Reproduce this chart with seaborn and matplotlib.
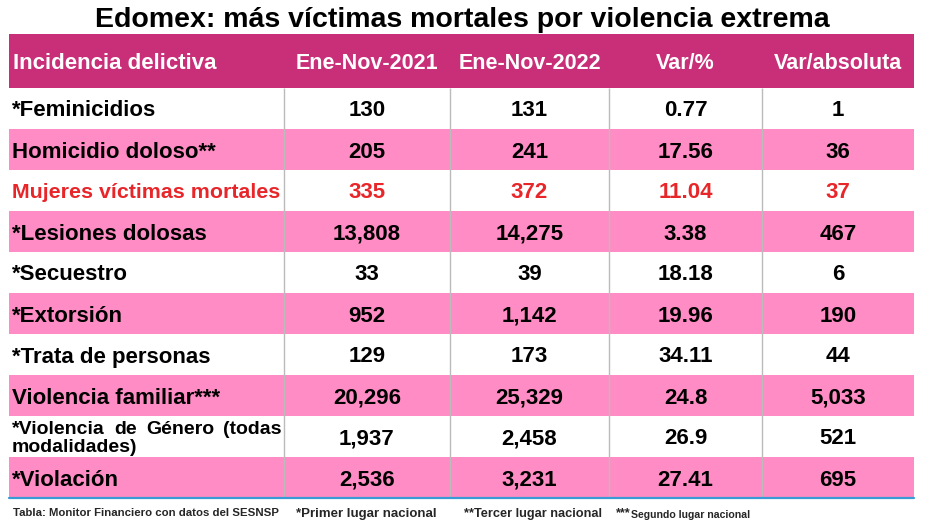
import numpy as np
import pandas as pd
import matplotlib
matplotlib.use("Agg")
import matplotlib.pyplot as plt
from matplotlib.colors import ListedColormap
import seaborn as sns

sns.set_theme(style="white")
plt.rcParams['font.family'] = ['Liberation Sans', 'DejaVu Sans']

title = "Edomex: más víctimas mortales por violencia extrema"
headers = ["Incidencia delictiva", "Ene-Nov-2021", "Ene-Nov-2022", "Var/%", "Var/absoluta"]
delitos = ["*Feminicidios", "Homicidio doloso**", "Mujeres víctimas mortales",
           "*Lesiones dolosas", "*Secuestro", "*Extorsión", "*Trata de personas",
           "Violencia familiar***", "*Violencia de Género (todas\nmodalidades)", "*Violación"]
ene_nov_2021 = ["130", "205", "335", "13,808", "33", "952", "129", "20,296", "1,937", "2,536"]
ene_nov_2022 = ["131", "241", "372", "14,275", "39", "1,142", "173", "25,329", "2,458", "3,231"]
var_pct = ["0.77", "17.56", "11.04", "3.38", "18.18", "19.96", "34.11", "24.8", "26.9", "27.41"]
var_abs = ["1", "36", "37", "467", "6", "190", "44", "5,033", "521", "695"]
fuente = "Tabla: Monitor Financiero con datos del SESNSP"
notas = ["*Primer lugar nacional", "**Tercer lugar nacional"]

df = pd.DataFrame({headers[0]: delitos, headers[1]: ene_nov_2021, headers[2]: ene_nov_2022,
                   headers[3]: var_pct, headers[4]: var_abs})

HEAD = "#C82F78"
PINK = "#FF8CC4"
RED = "#E8262A"

W, H = 928, 529
fig = plt.figure(figsize=(W / 100, H / 100), dpi=100)
fig.patch.set_facecolor("white")

x0, x1 = 9, 914
tw = x1 - x0
edges = np.array([9, 284, 450, 609, 762, 914])
fx = (edges - x0) / tw
centers = (fx[1:-1] + fx[2:]) / 2

# header
axh = fig.add_axes([x0 / W, 1 - 88 / H, tw / W, 54 / H])
sns.heatmap(np.zeros((1, 1)), cmap=ListedColormap([HEAD]), cbar=False,
            xticklabels=False, yticklabels=False, ax=axh)
axh.text(4 / tw, 0.5, headers[0], color="white", fontsize=16, fontweight="bold",
         ha="left", va="center_baseline")
for c, h in zip(centers, headers[1:]):
    axh.text(c, 0.5, h, color="white", fontsize=15.5, fontweight="bold",
             ha="center", va="center_baseline")

# body stripes
stripes = np.array([[i % 2] for i in range(len(df))])
axb = fig.add_axes([x0 / W, 1 - 498 / H, tw / W, 410 / H])
sns.heatmap(stripes, cmap=ListedColormap(["white", PINK]), cbar=False,
            xticklabels=False, yticklabels=False, ax=axb)
axb.vlines(fx[1:-1], 0, len(df), color="#BBBBBB", lw=1)
axb.axhline(len(df), color="#3A9AD6", lw=1.6, clip_on=False)

fig.canvas.draw()
rend = fig.canvas.get_renderer()

for i, row in df.iterrows():
    col = RED if i == 2 else "black"
    y = i + 0.5
    lab = row[headers[0]]
    if "\n" in lab:
        first, second = lab.split("\n")
        words = first.split(" ")
        widths = []
        for w_ in words:
            t = axb.text(0, 0, w_, fontsize=14, fontweight="bold")
            widths.append(t.get_window_extent(rend).width / tw)
            t.remove()
        left, right = 3 / tw, (282 - x0) / tw
        gap = (right - left - sum(widths)) / (len(words) - 1)
        pos = left
        for w_, wd in zip(words, widths):
            axb.text(pos, y - 0.22, w_, color=col, fontsize=14, fontweight="bold",
                     ha="left", va="center_baseline")
            pos += wd + gap
        axb.text(left, y + 0.22, second, color=col, fontsize=14, fontweight="bold",
                 ha="left", va="center_baseline")
    else:
        fs = 15.4 if i == 2 else 16
        axb.text(3 / tw, y, lab, color=col, fontsize=fs, fontweight="bold",
                 ha="left", va="center_baseline")
    for c, h in zip(centers, headers[1:]):
        axb.text(c, y, row[h], color=col, fontsize=16, fontweight="bold",
                 ha="center", va="center_baseline")

fig.text(462 / W, 1 - 17 / H, title, fontsize=20.5, fontweight="bold",
         ha="center", va="center_baseline", color="black")

fy = 1 - 512 / H
fig.text(13 / W, fy, fuente, fontsize=8.2, fontweight="bold", ha="left", va="center_baseline")
fig.text(296 / W, fy, notas[0], fontsize=9.5, fontweight="bold", ha="left", va="center_baseline")
fig.text(464 / W, fy, notas[1], fontsize=9.2, fontweight="bold", ha="left", va="center_baseline")
fig.text(616 / W, fy, "***", fontsize=9, fontweight="bold", ha="left", va="center_baseline")
fig.text(631 / W, fy - 0.004, "Segundo lugar nacional", fontsize=7.6, fontweight="bold",
         ha="left", va="center_baseline")

fig.savefig("out.png", dpi=100, facecolor="white")
